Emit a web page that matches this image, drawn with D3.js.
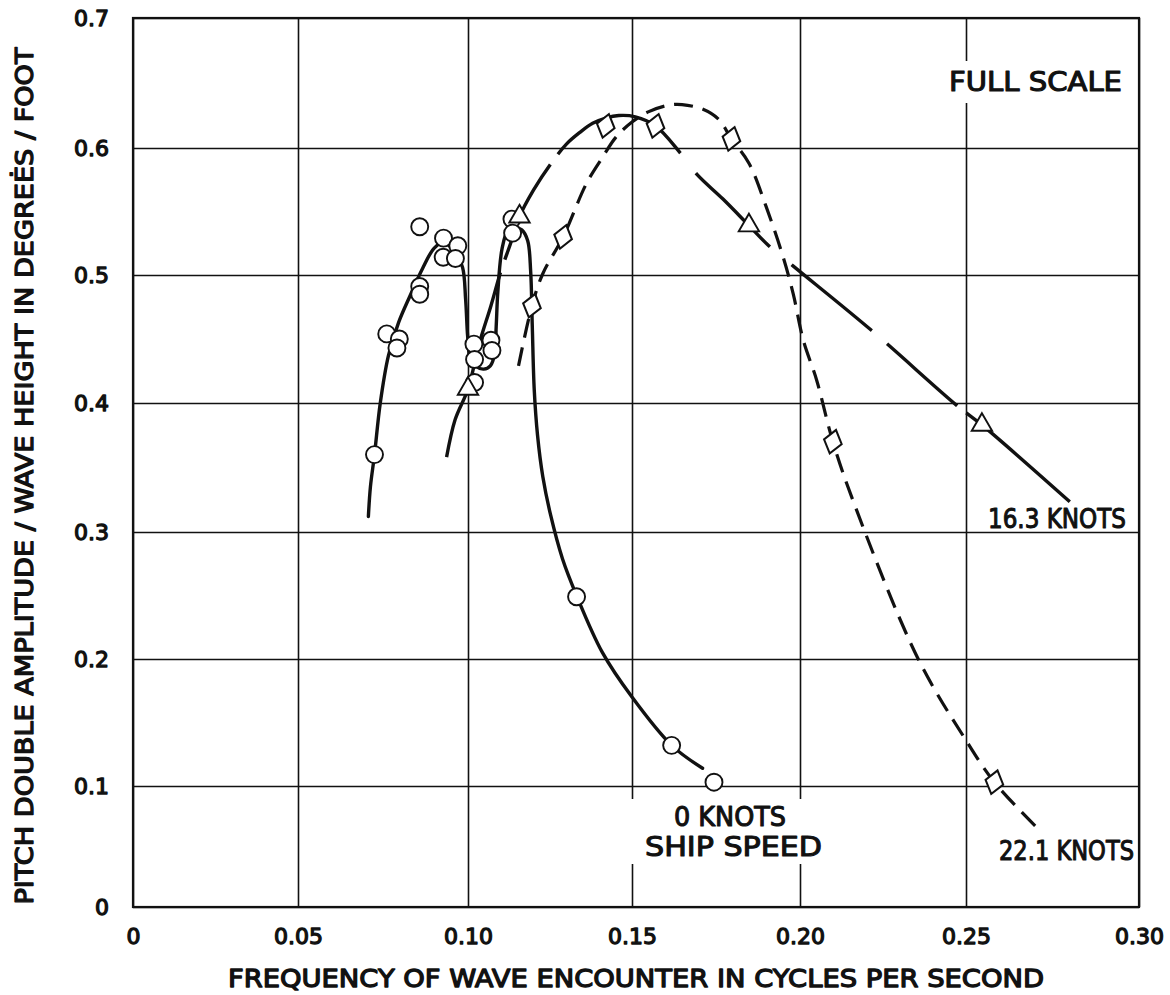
<!DOCTYPE html>
<html>
<head>
<meta charset="utf-8">
<script src="https://cdn.jsdelivr.net/npm/d3@7"></script>
<style>
  html, body { margin: 0; padding: 0; background: #fff; }
  svg { display: block; }
  text { font-family: "DejaVu Sans", sans-serif; font-weight: normal; fill: #111;
         stroke: #111; stroke-width: 1.3px; stroke-linejoin: round; }
  .note text { stroke-width: 1.1px; }
</style>
</head>
<body>
<svg id="chart" width="1170" height="995"></svg>
<script>
// ---- axis ticks ----
const xTickValues = [0, 0.05, 0.10, 0.15, 0.20, 0.25, 0.30];
const xTickLabels = ["0", "0.05", "0.10", "0.15", "0.20", "0.25", "0.30"];
const yTickValues = [0, 0.1, 0.2, 0.3, 0.4, 0.5, 0.6, 0.7];
const yTickLabels = ["0", "0.1", "0.2", "0.3", "0.4", "0.5", "0.6", "0.7"];

// ---- measured points [frequency (c/s), pitch amplitude / wave height] ----
const knots0Points = [
  [0.0725, 0.360], [0.0761, 0.454], [0.0798, 0.450], [0.0791, 0.443],
  [0.0858, 0.538], [0.0858, 0.491], [0.0858, 0.485],
  [0.0928, 0.529], [0.0970, 0.523], [0.0927, 0.514], [0.0963, 0.513],
  [0.1018, 0.446], [0.1020, 0.434], [0.1070, 0.449], [0.1073, 0.441],
  [0.1020, 0.416], [0.1134, 0.544], [0.1136, 0.533],
  [0.1331, 0.249], [0.1618, 0.132], [0.1744, 0.103]
];
const knots16Points = [
  [0.1000, 0.411], [0.1157, 0.546], [0.1848, 0.539], [0.2546, 0.383]
];
const knots22Points = [
  [0.1195, 0.476], [0.1290, 0.530], [0.1420, 0.617], [0.1570, 0.617],
  [0.1796, 0.607], [0.2099, 0.370], [0.2582, 0.103]
];

// ---- faired curves ----
const knots0Curve = [
  [0.0707, 0.312], [0.0713, 0.335], [0.0725, 0.360], [0.0742, 0.400],
  [0.0766, 0.437], [0.0796, 0.463], [0.0830, 0.484], [0.0866, 0.505],
  [0.0900, 0.521], [0.0926, 0.5255], [0.0962, 0.518], [0.0984, 0.506],
  [0.0993, 0.481], [0.0999, 0.452], [0.1006, 0.436], [0.1025, 0.4285],
  [0.1048, 0.4265], [0.1068, 0.429], [0.1081, 0.438], [0.1086, 0.460],
  [0.1091, 0.487], [0.1104, 0.521], [0.1122, 0.5355], [0.1140, 0.5375],
  [0.1164, 0.5355], [0.1182, 0.527], [0.1191, 0.503], [0.1196, 0.460],
  [0.1202, 0.410], [0.1212, 0.375], [0.1228, 0.343], [0.1252, 0.313],
  [0.1288, 0.279], [0.1331, 0.250], [0.1410, 0.205], [0.1500, 0.170],
  [0.1618, 0.132], [0.1710, 0.114]
];
const knots16Curve = [
  [0.0937, 0.358], [0.0962, 0.387], [0.1000, 0.411], [0.1035, 0.447],
  [0.1070, 0.476], [0.1099, 0.502], [0.1130, 0.525], [0.1157, 0.546],
  [0.1200, 0.567], [0.1251, 0.587], [0.1300, 0.603], [0.1341, 0.612],
  [0.1380, 0.619], [0.1420, 0.623], [0.1460, 0.625], [0.1510, 0.624],
  [0.1570, 0.617], [0.1644, 0.596], [0.1694, 0.579], [0.1770, 0.560],
  [0.1848, 0.539], [0.1907, 0.523], [0.1980, 0.507], [0.2216, 0.4566],
  [0.2473, 0.398], [0.2546, 0.383], [0.2800, 0.3234]
];
// breaks in the long-dash 16.3 knot line, as frequency ranges
const knots16Gaps = [
  [0.1099, 0.1112], [0.1251, 0.1274], [0.1644, 0.1690],
  [0.1910, 0.1975], [0.2216, 0.2262], [0.2473, 0.2500]
];
const knots22Curve = [
  [0.1154, 0.429], [0.1195, 0.476], [0.1228, 0.501], [0.1290, 0.530],
  [0.1361, 0.572], [0.1411, 0.593], [0.1450, 0.608], [0.1500, 0.620],
  [0.1550, 0.628], [0.1610, 0.633], [0.1649, 0.6334], [0.1709, 0.630],
  [0.1758, 0.622], [0.1796, 0.607], [0.1848, 0.588], [0.1899, 0.554],
  [0.1950, 0.514], [0.1980, 0.485], [0.2010, 0.449], [0.2050, 0.418],
  [0.2099, 0.370], [0.2166, 0.320], [0.2356, 0.200], [0.2500, 0.136],
  [0.2582, 0.103], [0.2700, 0.067]
];

// ---- layout ----
const svg = d3.select("#chart");
const ink = "#111";

// the printed grid is slightly uneven; map each ruled line to where it sits
const x = d3.scaleLinear().domain(xTickValues).range([133, 298, 468, 632, 800, 966, 1139]);
const y = d3.scaleLinear().domain(yTickValues).range([907, 786, 659, 532, 403, 275, 148, 18]);

const plotTop = y(0.7), plotBottom = y(0), plotLeft = x(0), plotRight = x(0.3);

// grid + tick labels
const gx = svg.append("g")
  .attr("transform", `translate(0,${plotBottom})`)
  .call(d3.axisBottom(x)
    .tickValues(xTickValues)
    .tickFormat((d, i) => xTickLabels[i])
    .tickSizeInner(-(plotBottom - plotTop))
    .tickSizeOuter(0)
    .tickPadding(21));
gx.select(".domain").remove();
gx.attr("font-family", null).attr("font-size", null);
gx.selectAll("line").attr("stroke", ink).attr("stroke-width", 1.6);
gx.selectAll("text").attr("font-size", 22).attr("fill", ink);

const gy = svg.append("g")
  .attr("transform", `translate(${plotLeft},0)`)
  .call(d3.axisLeft(y)
    .tickValues(yTickValues)
    .tickFormat((d, i) => yTickLabels[i])
    .tickSizeInner(-(plotRight - plotLeft))
    .tickSizeOuter(0)
    .tickPadding(24));
gy.select(".domain").remove();
gy.attr("font-family", null).attr("font-size", null);
gy.selectAll("line").attr("stroke", ink).attr("stroke-width", 1.6);
gy.selectAll("text").attr("font-size", 22).attr("fill", ink);

// frame
svg.append("rect")
  .attr("x", plotLeft).attr("y", plotTop)
  .attr("width", plotRight - plotLeft).attr("height", plotBottom - plotTop)
  .attr("fill", "none").attr("stroke", ink).attr("stroke-width", 2.2);

// axis titles
svg.append("text")
  .attr("x", (plotLeft + plotRight) / 2).attr("y", 987)
  .attr("text-anchor", "middle").attr("font-size", 25)
  .attr("textLength", 816).attr("lengthAdjust", "spacingAndGlyphs")
  .text("FREQUENCY OF WAVE ENCOUNTER IN CYCLES PER SECOND");

svg.append("text")
  .attr("transform", "translate(33,476) rotate(-90)")
  .attr("text-anchor", "middle").attr("font-size", 25)
  .attr("textLength", 857).attr("lengthAdjust", "spacingAndGlyphs")
  .text("PITCH DOUBLE AMPLITUDE / WAVE HEIGHT IN DEGREĖS / FOOT");

// in-plot lettering; some pieces sit on a white patch that breaks the grid
const notes = svg.append("g").attr("class", "note");
function note(lines, padX, padY, blank) {
  const g = notes.append("g");
  const bg = g.append("rect").attr("fill", "#fff");
  lines.forEach(l => {
    g.append("text")
      .attr("x", l.x).attr("y", l.y)
      .attr("font-size", l.size)
      .attr("textLength", l.w).attr("lengthAdjust", "spacingAndGlyphs")
      .text(l.t);
  });
  if (blank) {
    const b = g.node().getBBox();
    bg.attr("x", b.x - padX).attr("y", b.y - padY)
      .attr("width", b.width + 2 * padX).attr("height", b.height + 2 * padY);
  } else bg.remove();
}
note([{ t: "FULL SCALE", x: 949, y: 91, size: 26, w: 173 }], 6, 6, true);
note([{ t: "0 KNOTS", x: 674, y: 826, size: 27, w: 112 },
      { t: "SHIP SPEED", x: 645, y: 856, size: 27, w: 177 }], 14, 2, true);
note([{ t: "16.3 KNOTS", x: 988, y: 528, size: 27, w: 138 }], 0, 0, false);
note([{ t: "22.1 KNOTS", x: 999, y: 860, size: 27, w: 135 }], 0, 0, false);

// curves
const line = d3.line()
  .x(d => x(d[0])).y(d => y(d[1]))
  .curve(d3.curveCatmullRom.alpha(0.5));

svg.append("path").datum(knots0Curve)
  .attr("d", line).attr("fill", "none")
  .attr("stroke", ink).attr("stroke-width", 3.4)
  .attr("stroke-linecap", "round");

const p16 = svg.append("path").datum(knots16Curve)
  .attr("d", line).attr("fill", "none")
  .attr("stroke", ink).attr("stroke-width", 3.4);

// turn the gap ranges into a dash pattern along the path length
(function () {
  const node = p16.node();
  const total = node.getTotalLength();
  const lenAt = xv => {
    const target = x(xv);
    let lo = 0, hi = total;
    for (let k = 0; k < 40; k++) {
      const mid = (lo + hi) / 2;
      if (node.getPointAtLength(mid).x < target) lo = mid; else hi = mid;
    }
    return lo;
  };
  const dash = [];
  let pos = 0;
  knots16Gaps.forEach(([a, b]) => {
    const la = lenAt(a), lb = lenAt(b);
    dash.push(la - pos, lb - la);
    pos = lb;
  });
  dash.push(total - pos + 2, total);
  p16.attr("stroke-dasharray", dash.join(","));
})();

svg.append("path").datum(knots22Curve)
  .attr("d", line).attr("fill", "none")
  .attr("stroke", ink).attr("stroke-width", 3.2)
  .attr("stroke-dasharray", "19,10");

// markers
svg.append("g").selectAll("circle").data(knots0Points).join("circle")
  .attr("cx", d => x(d[0])).attr("cy", d => y(d[1])).attr("r", 8.5)
  .attr("fill", "#fff").attr("stroke", ink).attr("stroke-width", 1.9);

const tri = d3.symbol().type(d3.symbolTriangle).size(180);
svg.append("g").selectAll("path").data(knots16Points).join("path")
  .attr("d", tri)
  .attr("transform", d => `translate(${x(d[0])},${y(d[1])})`)
  .attr("fill", "#fff").attr("stroke", ink).attr("stroke-width", 1.9);

const dia = d3.symbol().type(d3.symbolDiamond).size(170);
svg.append("g").selectAll("path").data(knots22Points).join("path")
  .attr("d", dia)
  .attr("transform", d => `translate(${x(d[0])},${y(d[1])}) rotate(15) scale(1.3,1)`)
  .attr("fill", "#fff").attr("stroke", ink).attr("stroke-width", 1.7);
</script>
</body>
</html>
